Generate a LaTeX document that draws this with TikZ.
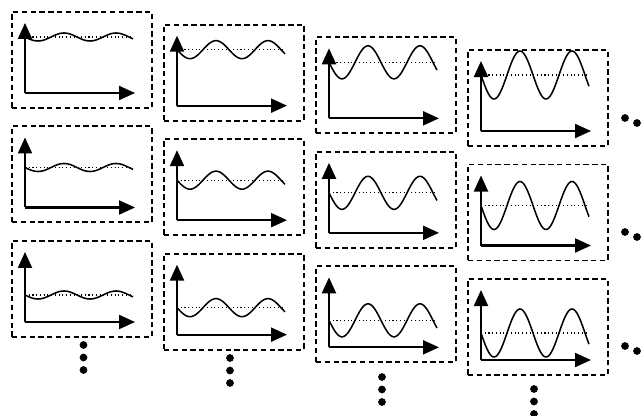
\documentclass[tikz,border=0pt]{standalone}
\usetikzlibrary{arrows.meta}
\begin{document}
\begin{tikzpicture}[x=0.75pt,y=-0.75pt,
    panel/.style={draw,dash pattern=on 4pt off 2.6pt,line width=1.4pt,
      minimum width=105pt,minimum height=72pt,inner sep=0pt,anchor=north west},
    axis/.style={line width=1.6pt,-{Triangle[length=12pt,width=10.5pt]}},
    wave/.style={line width=1.15pt},
    level/.style={dotted,line width=0.8pt},
    more/.style={fill,circle,inner sep=0pt,minimum size=5.8pt}]
  \useasboundingbox (0,0) rectangle (643,416);
  % panels: columns grow in amplitude, rows shift the mean level
  \foreach \c/\amp in {1/4,2/9,3/16.5,4/24}{
    \foreach \r/\lev in {1/26,2/42,3/55}{
      \pgfmathsetmacro{\bx}{11+152*(\c-1)}
      \pgfmathsetmacro{\by}{11+12.67*(\c-1)+114.5*(\r-1)}
      \node[panel] (p\c\r) at (\bx,\by) {};
      \coordinate (o\c\r) at (\bx+14,\by+82);
      \coordinate (ty\c\r) at (\bx+14,\by+12);
      \coordinate (tx\c\r) at (\bx+124,\by+82);
      \draw [axis] (o\c\r) -- (ty\c\r);
      \draw [axis] (o\c\r) -- (tx\c\r);
      \draw [level] (\bx+14,\by+\lev) -- (\bx+120,\by+\lev);
      \draw [wave] plot[domain=0:108,samples=90,smooth]
        ({\bx+14+\x},{\by+\lev+\amp*sin(\x/52*360)});
    }
  }
  % vertical dots under each column
  \foreach \c/\dx/\dy in {1/83.5/345,2/230/358,3/382/377,4/534/389}{
    \foreach \k in {0,1,2}
      \node[more] (v\c\k) at (\dx,\dy+12.5*\k) {};
  }
  % dots to the right of each row
  \foreach \r in {1,2,3}{
    \node[more] (h\r a) at (625,118+114*\r-114) {};
    \node[more] (h\r b) at (637,123+114*\r-114) {};
  }
\end{tikzpicture}
\end{document}
